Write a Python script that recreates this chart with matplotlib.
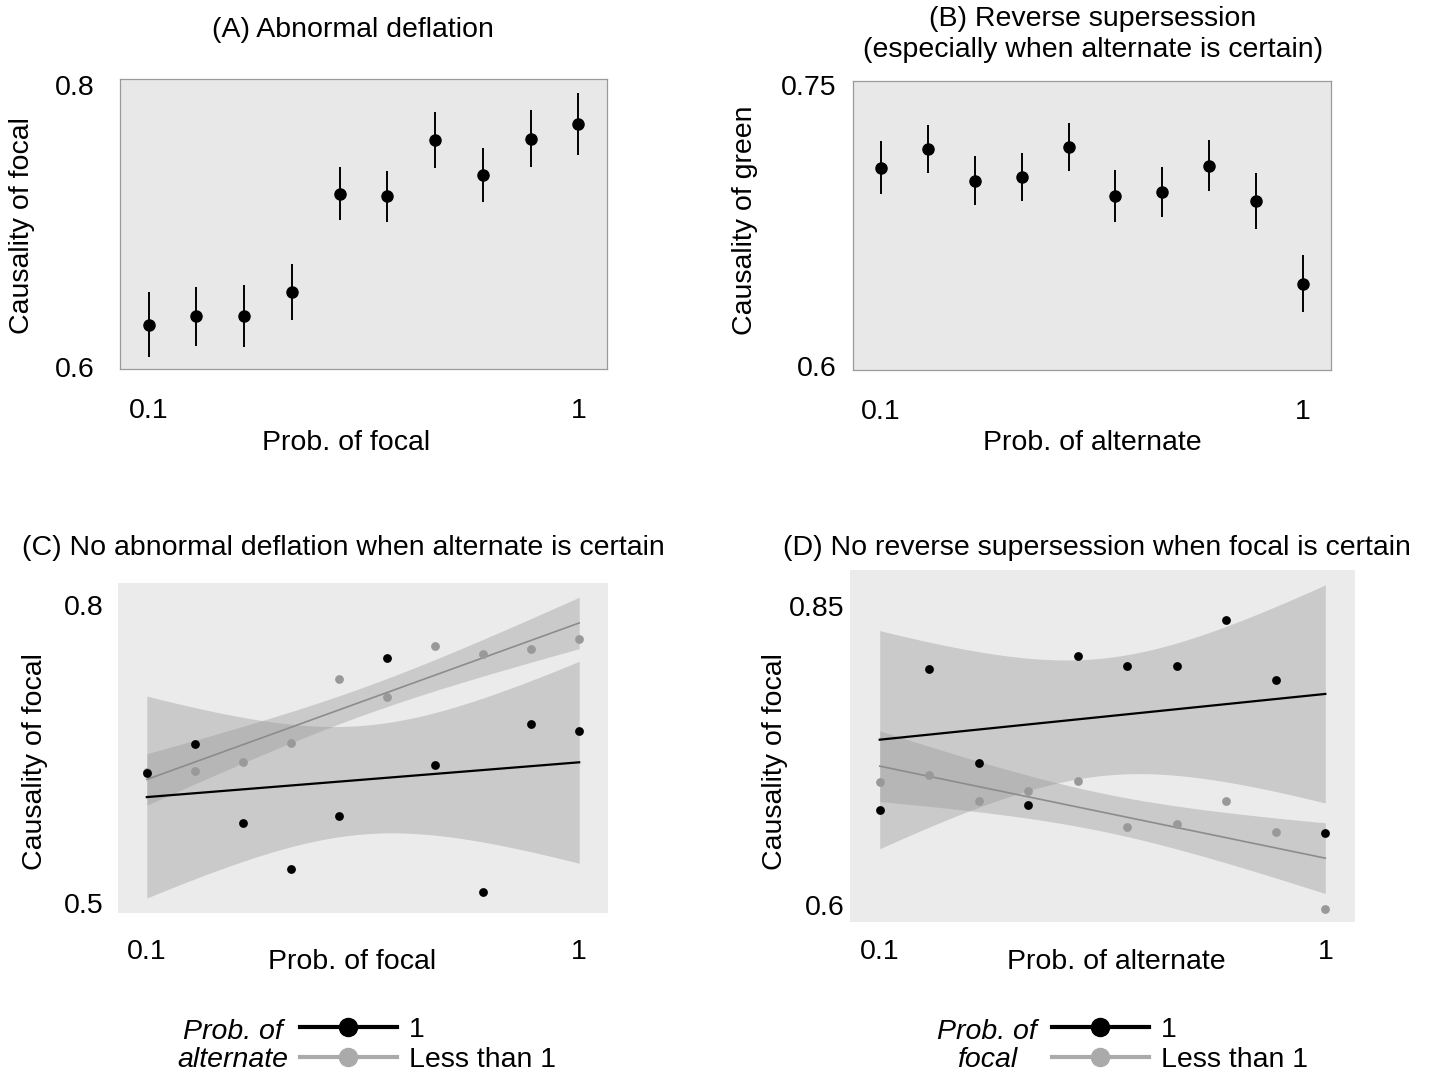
import numpy as np
import matplotlib
matplotlib.use("Agg")
import matplotlib.pyplot as plt
from matplotlib.lines import Line2D

plt.rcParams['font.family'] = ['Liberation Sans', 'DejaVu Sans']
FS = 20.5

W, H = 1435, 1076

# x levels shared by all panels
probs = [0.1, 0.2, 0.3, 0.4, 0.5, 0.6, 0.7, 0.8, 0.9, 1.0]

# (A) means and error half-widths
a_mean = [0.630, 0.636, 0.636, 0.653, 0.723, 0.721, 0.761, 0.736, 0.762, 0.772]
a_err = [0.023, 0.021, 0.022, 0.020, 0.019, 0.018, 0.020, 0.019, 0.020, 0.022]

# (B)
b_mean = [0.706, 0.716, 0.699, 0.701, 0.717, 0.691, 0.693, 0.707, 0.688, 0.644]
b_err = [0.0142, 0.0129, 0.0131, 0.0128, 0.0130, 0.0140, 0.0131, 0.0137, 0.0150, 0.0153]

# (C) prob. of alternate = 1 / less than 1
c_one = [0.631, 0.660, 0.581, 0.534, 0.588, 0.747, 0.639, 0.511, 0.680, 0.673]
c_less = [0.632, 0.633, 0.642, 0.661, 0.726, 0.708, 0.759, 0.751, 0.756, 0.766]

# (D) prob. of focal = 1 / less than 1
d_one = [0.679, 0.797, 0.719, 0.684, 0.808, 0.800, 0.800, 0.838, 0.788, 0.660]
d_less = [0.703, 0.709, 0.687, 0.695, 0.704, 0.665, 0.668, 0.687, 0.661, 0.597]

T_975_DF8 = 2.306


def fx(px):
    return px / W


def fy(py):
    return 1 - py / H


def axes_px(fig, left, top, right, bottom):
    return fig.add_axes([fx(left), fy(bottom), (right - left) / W, (bottom - top) / H])


def ols_band(x, y, grid):
    x = np.asarray(x)
    y = np.asarray(y)
    n = len(x)
    slope, intercept = np.polyfit(x, y, 1)
    resid = y - (slope * x + intercept)
    s = np.sqrt(np.sum(resid ** 2) / (n - 2))
    sxx = np.sum((x - x.mean()) ** 2)
    fit = slope * grid + intercept
    se = s * np.sqrt(1.0 / n + (grid - x.mean()) ** 2 / sxx)
    return fit, fit - T_975_DF8 * se, fit + T_975_DF8 * se


def style_axes(ax, boxed, ylim, yticks, yticklabels, ypad, xpad):
    ax.set_xlim(0.04, 1.06)
    ax.set_ylim(*ylim)
    ax.set_xticks([0.1, 1.0])
    ax.set_xticklabels(['0.1', '1'])
    ax.set_yticks(yticks)
    ax.set_yticklabels(yticklabels)
    ax.tick_params(axis='y', length=0, pad=ypad, labelsize=FS)
    ax.tick_params(axis='x', length=0, pad=xpad, labelsize=FS)
    if boxed:
        ax.set_facecolor('#e8e8e8')
        for sp in ax.spines.values():
            sp.set_color('#9a9a9a')
            sp.set_linewidth(0.9)
    else:
        ax.set_facecolor('#ebebeb')
        for sp in ax.spines.values():
            sp.set_visible(False)


def place_labels(ax, fig, xlabel, xl, ylabel, yl):
    ax.set_xlabel(xlabel, fontsize=FS)
    ax.xaxis.set_label_coords(fx(xl[0]), fy(xl[1]), transform=fig.transFigure)
    ax.xaxis.label.set_va('center')
    ax.set_ylabel(ylabel, fontsize=FS)
    ax.yaxis.set_label_coords(fx(yl[0]), fy(yl[1]), transform=fig.transFigure)
    ax.yaxis.label.set_va('center')


fig = plt.figure(figsize=(W / 100, H / 100), dpi=100)

# ---- (A)
ax_a = axes_px(fig, 120, 79, 607, 369)
ax_a.errorbar(probs, a_mean, yerr=a_err, fmt='o', color='black', ms=8,
              elinewidth=1.4, capsize=0)
style_axes(ax_a, True, (0.5986, 0.8042), [0.6, 0.8], ['0.6', '0.8'], 18, 21)
place_labels(ax_a, fig, 'Prob. of focal', (346, 443), 'Causality of focal', (22, 226))
ax_a.set_title('(A) Abnormal deflation', fontsize=FS, x=0.478, y=1.169, va='center', pad=0)

# ---- (B)
ax_b = axes_px(fig, 853, 81, 1331, 370)
ax_b.errorbar(probs, b_mean, yerr=b_err, fmt='o', color='black', ms=8,
              elinewidth=1.4, capsize=0)
style_axes(ax_b, True, (0.5979, 0.7523), [0.6, 0.75], ['0.6', '0.75'], 12, 21)
place_labels(ax_b, fig, 'Prob. of alternate', (1092, 443), 'Causality of green', (745, 220))
ax_b.set_title('(B) Reverse supersession\n(especially when alternate is certain)',
               fontsize=FS, x=0.502, y=1.161, va='center', linespacing=1.25, pad=0)

grid = np.linspace(0.1, 1.0, 100)

# ---- (C)
ax_c = axes_px(fig, 118, 583, 608, 913)
for vals, col, lw in [(c_one, 'black', 1.6), (c_less, '#8c8c8c', 1.2)]:
    fit, lo, hi = ols_band(probs, vals, grid)
    ax_c.fill_between(grid, lo, hi, color='#999999', alpha=0.4, lw=0)
    ax_c.plot(grid, fit, color=col, lw=lw)
ax_c.scatter(probs, c_less, s=40, color='#999999', zorder=3, lw=0)
ax_c.scatter(probs, c_one, s=40, color='black', zorder=4, lw=0)
style_axes(ax_c, False, (0.4902, 0.8224), [0.5, 0.8], ['0.5', '0.8'], 10, 19)
place_labels(ax_c, fig, 'Prob. of focal', (352, 962), 'Causality of focal', (35, 762))
ax_c.set_title('(C) No abnormal deflation when alternate is certain', fontsize=FS,
               x=0.459, y=1.106, va='center', pad=0)

# ---- (D)
ax_d = axes_px(fig, 850, 570, 1355, 922)
for vals, col, lw in [(d_one, 'black', 1.6), (d_less, '#8c8c8c', 1.2)]:
    fit, lo, hi = ols_band(probs, vals, grid)
    ax_d.fill_between(grid, lo, hi, color='#999999', alpha=0.4, lw=0)
    ax_d.plot(grid, fit, color=col, lw=lw)
ax_d.scatter(probs, d_less, s=40, color='#999999', zorder=3, lw=0)
ax_d.scatter(probs, d_one, s=40, color='black', zorder=4, lw=0)
style_axes(ax_d, False, (0.5858, 0.880), [0.6, 0.85], ['0.6', '0.85'], 4, 12)
place_labels(ax_d, fig, 'Prob. of alternate', (1116, 962), 'Causality of focal', (775, 762))
ax_d.set_title('(D) No reverse supersession when focal is certain', fontsize=FS,
               x=0.489, y=1.0625, va='center', pad=0)

# ---- legends
handles = [Line2D([], [], color='black', lw=3, marker='o', ms=13),
           Line2D([], [], color='#aaaaaa', lw=3, marker='o', ms=13)]
labels = ['1', 'Less than 1']
for hx, tx, title in [(300, 233, 'Prob. of\nalternate'), (1052, 987, 'Prob. of\nfocal')]:
    fig.legend(handles, labels, loc='center left', bbox_to_anchor=(fx(hx), fy(1045)),
               frameon=False, fontsize=FS, handlelength=3.4, handletextpad=0.42,
               labelspacing=0.15, borderpad=0, borderaxespad=0)
    fig.text(fx(tx), fy(1046), title, style='italic', fontsize=FS, ha='center',
             va='center', linespacing=1.1)

fig.savefig('out.png', dpi=100)
